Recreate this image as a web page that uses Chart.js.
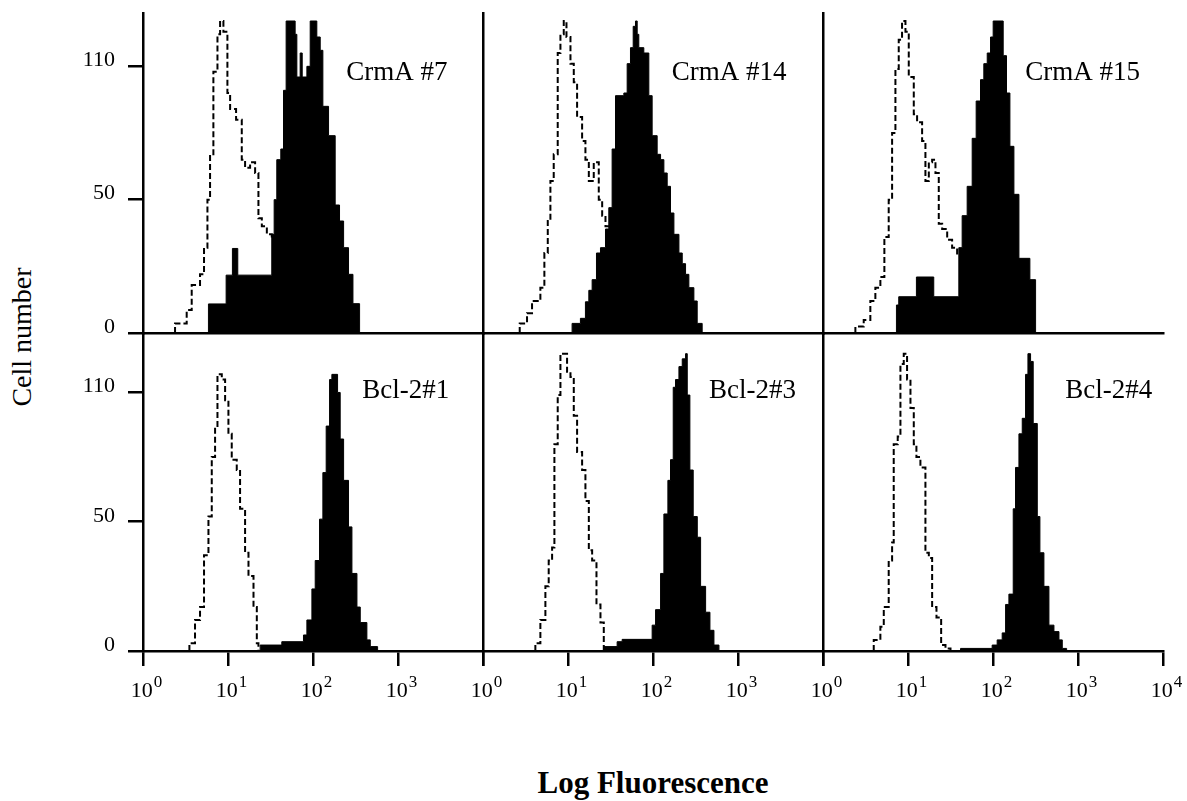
<!DOCTYPE html>
<html>
<head>
<meta charset="utf-8">
<script src="https://cdn.jsdelivr.net/npm/chart.js"></script>
<style>
  html, body { margin: 0; padding: 0; background: #fff; }
  #figure { position: relative; width: 1187px; height: 801px; overflow: hidden; background: #fff; }
  #figure canvas { position: absolute; }
  #ytitle {
    position: absolute; left: 22px; top: 337px;
    transform: translate(-50%, -50%) rotate(-90deg);
    font: 28px "Liberation Serif", "Times New Roman", serif; line-height: 1; white-space: nowrap; color: #000;
  }
  #xtitle {
    position: absolute; left: 653px; top: 767px; transform: translateX(-50%);
    font: bold 31px "Liberation Serif", "Times New Roman", serif; line-height: 1; white-space: nowrap; color: #000;
  }
</style>
</head>
<body>
<div id="figure">
  <div id="ytitle">Cell number</div>
  <div id="xtitle">Log Fluorescence</div>
</div>
<script>
// Flow cytometry histograms: control (dashed) vs stained (filled), six clones

const panelNames = ['CrmA #7', 'CrmA #14', 'CrmA #15', 'Bcl-2#1', 'Bcl-2#3', 'Bcl-2#4'];
const decadeTicks = [0, 1, 2, 3, 4];          // log10 of fluorescence
const yTickValues = [0, 50, 100];
const yTickLabels = ['0', '50', '110'];

// each entry: [log10 fluorescence where the bin starts, cell count]; last entry closes the histogram
const crmA7Control = [[0.377, 3.6], [0.514, 8.6], [0.573, 18], [0.671, 22], [0.718, 32], [0.758, 50], [0.789, 67], [0.828, 98], [0.876, 112], [0.907, 117], [0.946, 113], [0.993, 90], [1.025, 84], [1.095, 80], [1.162, 65], [1.201, 62], [1.260, 64], [1.319, 60], [1.358, 43], [1.398, 40], [1.457, 37], [1.515, 35], [1.574, 0]];
const crmA7Stained = [[0.770, 10.9], [0.978, 21.7], [1.052, 31.7], [1.115, 21.7], [1.515, 37], [1.543, 50], [1.574, 65], [1.621, 69], [1.653, 91], [1.684, 117], [1.790, 112], [1.810, 96], [1.849, 105], [1.873, 96], [1.928, 100], [1.967, 117], [2.045, 111], [2.085, 106], [2.116, 85], [2.183, 74], [2.261, 48], [2.312, 42], [2.360, 32], [2.418, 22], [2.470, 11], [2.548, 0]];

const crmA14Control = [[0.432, 3.6], [0.518, 7.4], [0.577, 12], [0.675, 17], [0.722, 30], [0.762, 42], [0.793, 57], [0.832, 67], [0.879, 105], [0.911, 112], [0.950, 117], [0.982, 111], [1.029, 101], [1.068, 94], [1.107, 81], [1.166, 72], [1.205, 65], [1.245, 57], [1.303, 64], [1.362, 50], [1.402, 44], [1.441, 40], [1.500, 0]];
const crmA14Stained = [[1.048, 3.6], [1.146, 5.5], [1.205, 11.7], [1.245, 16], [1.284, 20], [1.335, 30], [1.382, 32], [1.441, 39], [1.480, 47], [1.519, 69], [1.559, 89], [1.657, 90], [1.696, 101], [1.735, 107], [1.767, 115], [1.794, 117], [1.814, 112], [1.833, 107], [1.892, 105], [1.951, 89], [1.990, 74], [2.049, 67], [2.089, 65], [2.128, 60], [2.167, 55], [2.206, 45], [2.246, 37], [2.305, 30], [2.344, 26], [2.383, 22], [2.422, 17], [2.481, 12], [2.520, 3.6], [2.579, 0]];

const crmA15Control = [[0.381, 2.4], [0.479, 4.9], [0.557, 12], [0.616, 17], [0.675, 21], [0.722, 36], [0.773, 50], [0.813, 75], [0.852, 99], [0.891, 110], [0.930, 117], [0.970, 113], [1.009, 96], [1.068, 82], [1.107, 79], [1.166, 72], [1.205, 57], [1.245, 64], [1.284, 65], [1.323, 60], [1.362, 41], [1.402, 39], [1.461, 35], [1.519, 32], [1.578, 29], [1.637, 0]];
const crmA15Stained = [[0.864, 10.5], [0.891, 13.6], [1.099, 21], [1.303, 13.6], [1.598, 32], [1.637, 44], [1.696, 55], [1.755, 73], [1.802, 87], [1.853, 95], [1.892, 101], [1.932, 105], [1.971, 111], [2.002, 117], [2.120, 104], [2.159, 90], [2.199, 70], [2.246, 52], [2.305, 28], [2.434, 20], [2.501, 0]];

const bcl2n1Control = [[0.546, 3], [0.612, 12], [0.671, 17], [0.718, 37], [0.770, 52], [0.809, 75], [0.848, 87], [0.876, 107], [0.927, 105], [0.966, 97], [1.005, 84], [1.044, 74], [1.103, 70], [1.142, 55], [1.201, 38], [1.241, 29], [1.300, 17], [1.339, 3], [1.358, 0]];
const bcl2n1Stained = [[1.378, 2.3], [1.633, 3.6], [1.888, 6.2], [1.928, 12], [1.987, 24], [2.026, 35], [2.077, 51], [2.116, 69], [2.155, 87], [2.195, 105], [2.222, 107], [2.289, 100], [2.320, 82], [2.360, 66], [2.418, 48], [2.458, 30], [2.517, 17], [2.556, 11], [2.634, 4.3], [2.674, 1.7], [2.760, 0]];

const bcl2n3Control = [[0.616, 3], [0.675, 12], [0.734, 25], [0.773, 35], [0.813, 40], [0.840, 80], [0.879, 99], [0.911, 115], [0.950, 115], [0.989, 108], [1.029, 106], [1.068, 91], [1.107, 77], [1.166, 70], [1.205, 58], [1.245, 39], [1.284, 35], [1.335, 18], [1.382, 11], [1.421, 0]];
const bcl2n3Stained = [[1.421, 1.7], [1.578, 3.6], [1.637, 4.5], [1.990, 10], [2.030, 16], [2.089, 30], [2.128, 53], [2.175, 66], [2.206, 74], [2.238, 102], [2.265, 105], [2.305, 110], [2.344, 113], [2.383, 115], [2.403, 99], [2.434, 70], [2.473, 52], [2.521, 44], [2.560, 25], [2.619, 15], [2.670, 8], [2.717, 2.3], [2.776, 0]];

const bcl2n4Control = [[0.597, 4.3], [0.675, 9.4], [0.715, 17], [0.773, 35], [0.813, 42], [0.832, 80], [0.879, 83], [0.911, 111], [0.950, 115], [0.989, 105], [1.029, 94], [1.068, 80], [1.099, 75], [1.146, 71], [1.205, 38], [1.245, 36], [1.284, 17], [1.335, 13], [1.390, 2.3], [1.441, 1], [1.500, 0]];
const bcl2n4Stained = [[1.618, 1], [1.990, 2.3], [2.049, 4.3], [2.108, 7], [2.148, 18], [2.187, 22], [2.238, 55], [2.265, 71], [2.305, 84], [2.344, 90], [2.383, 107], [2.411, 115], [2.442, 112], [2.473, 88], [2.521, 52], [2.552, 38], [2.599, 25], [2.658, 10], [2.717, 7.5], [2.776, 4.3], [2.815, 1], [2.866, 0]];

// page layout (pixels)
const colLeft = [143, 483, 823];
const plotWidth = 340;
const rowTop = [13, 333];
const rowHeight = [320, 318];
const rowYMax = [120, 123];
const axisBox = 70;      // room left of the plot for y labels
const padTop = 30;
const padRight = 30;
const xAxisBox = [30, 75];
const axisWidth = 2.5;
const serif = '"Liberation Serif", "Times New Roman", serif';

const panels = [
    { name: panelNames[0], control: crmA7Control, stained: crmA7Stained, row: 0, col: 0, labelAt: [2.39, 95] },
    { name: panelNames[1], control: crmA14Control, stained: crmA14Stained, row: 0, col: 1, labelAt: [2.22, 95] },
    { name: panelNames[2], control: crmA15Control, stained: crmA15Stained, row: 0, col: 2, labelAt: [2.38, 95] },
    { name: panelNames[3], control: bcl2n1Control, stained: bcl2n1Stained, row: 1, col: 0, labelAt: [2.58, 98] },
    { name: panelNames[4], control: bcl2n3Control, stained: bcl2n3Stained, row: 1, col: 1, labelAt: [2.66, 98] },
    { name: panelNames[5], control: bcl2n4Control, stained: bcl2n4Stained, row: 1, col: 2, labelAt: [2.85, 98] }
];

// histogram rises from the baseline at its first bin
function withBaseline(series) {
    return [[series[0][0], 0], ...series];
}

const panelText = {
    id: 'panelText',
    afterDraw(chart, args, opts) {
        const { ctx, scales: { x, y } } = chart;
        ctx.save();
        ctx.fillStyle = '#000';
        ctx.textBaseline = 'alphabetic';
        ctx.textAlign = 'left';
        ctx.font = '27px ' + serif;
        ctx.fillText(opts.name, x.getPixelForValue(opts.at[0]), y.getPixelForValue(opts.at[1]));

        // decade labels 10^n
        const base = chart.chartArea.bottom + 46;
        opts.decades.forEach(d => {
            const px = x.getPixelForValue(d);
            ctx.font = '22px ' + serif;
            const w1 = ctx.measureText('10').width;
            ctx.font = '17px ' + serif;
            const w2 = ctx.measureText(String(d)).width;
            const start = px - (w1 + w2) / 2 + 3;
            ctx.font = '22px ' + serif;
            ctx.fillText('10', start, base);
            ctx.font = '17px ' + serif;
            ctx.fillText(String(d), start + w1 + 1, base - 10);
        });
        ctx.restore();
    }
};

const figure = document.getElementById('figure');

panels.forEach(p => {
    const bottomRow = p.row === 1;
    const firstCol = p.col === 0;
    const canvas = document.createElement('canvas');
    canvas.width = axisBox + plotWidth + padRight;
    canvas.height = padTop + rowHeight[p.row] + xAxisBox[p.row];
    canvas.style.left = (colLeft[p.col] - axisBox) + 'px';
    canvas.style.top = (rowTop[p.row] - padTop) + 'px';
    figure.appendChild(canvas);

    let decades = [];
    if (bottomRow) decades = p.col < 2 ? decadeTicks.slice(0, 4) : decadeTicks;

    new Chart(canvas, {
        type: 'line',
        data: {
            datasets: [
                {
                    label: 'Stained',
                    data: withBaseline(p.stained),
                    stepped: true,
                    fill: 'origin',
                    backgroundColor: '#000',
                    borderColor: '#000',
                    borderWidth: 1,
                    pointRadius: 0
                },
                {
                    label: 'Control',
                    data: withBaseline(p.control),
                    stepped: true,
                    fill: false,
                    borderColor: '#000',
                    borderWidth: 2,
                    borderDash: [6, 3],
                    pointRadius: 0
                }
            ]
        },
        options: {
            responsive: false,
            animation: false,
            events: [],
            layout: { padding: { top: padTop, right: padRight, left: 0, bottom: 0 } },
            plugins: {
                legend: { display: false },
                tooltip: { enabled: false },
                panelText: { name: p.name, at: p.labelAt, decades: decades }
            },
            scales: {
                x: {
                    type: 'linear',
                    min: 0,
                    max: 4,
                    afterBuildTicks: s => { s.ticks = decadeTicks.map(v => ({ value: v })); },
                    afterFit: s => { s.height = xAxisBox[p.row]; },
                    border: { display: true, color: '#000', width: axisWidth },
                    grid: { display: bottomRow, drawOnChartArea: false, drawTicks: true, tickLength: 15, color: '#000', lineWidth: axisWidth },
                    ticks: { display: false }
                },
                y: {
                    min: 0,
                    max: rowYMax[p.row],
                    afterBuildTicks: s => { s.ticks = yTickValues.map(v => ({ value: v })); },
                    afterFit: s => { s.width = axisBox; },
                    border: { display: true, color: '#000', width: axisWidth },
                    grid: { display: firstCol, drawOnChartArea: false, drawTicks: true, tickLength: 15, color: '#000', lineWidth: axisWidth },
                    ticks: {
                        display: firstCol,
                        color: '#000',
                        font: { family: serif, size: 22 },
                        padding: 13,
                        labelOffset: -6,
                        callback: v => yTickLabels[yTickValues.indexOf(v)]
                    }
                }
            }
        },
        plugins: [panelText]
    });
});
</script>
</body>
</html>
